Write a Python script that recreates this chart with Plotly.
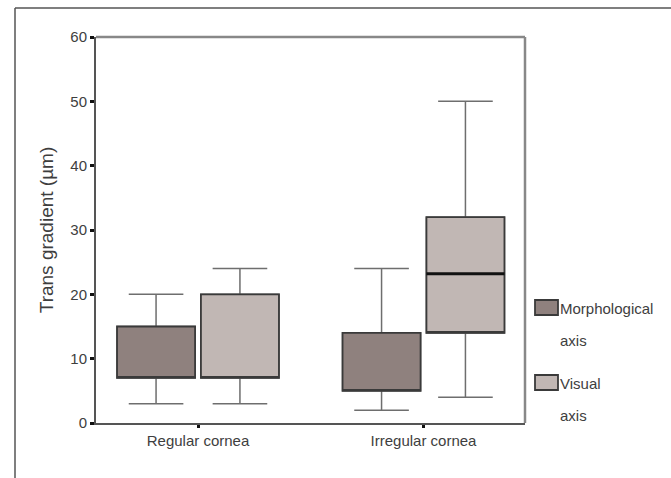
import plotly.graph_objects as go

# Trans gradient summary statistics (µm) per cornea group
categories = ["Regular cornea", "Irregular cornea"]
series_names = ["Morphological axis", "Visual axis"]

morph_lower = [3, 2]
morph_q1 = [7, 5]
morph_median = [7, 5]
morph_q3 = [15, 14]
morph_upper = [20, 24]

visual_lower = [3, 4]
visual_q1 = [7, 14]
visual_median = [7, 23.2]
visual_q3 = [20, 32]
visual_upper = [24, 50]

y_ticks = [0, 10, 20, 30, 40, 50, 60]

FONT = "Liberation Sans, Arial, sans-serif"
TEXT_COLOR = "#3e3e3e"
fills = ["#8f817e", "#c1b7b4"]
offset = 0.186
box_w = 0.346

series = [
    (morph_lower, morph_q1, morph_median, morph_q3, morph_upper),
    (visual_lower, visual_q1, visual_median, visual_q3, visual_upper),
]

fig = go.Figure()

for s, (lo, q1, med, q3, up) in enumerate(series):
    xs = [i + (-offset if s == 0 else offset) for i in range(len(categories))]
    # whiskers (lighter grey) drawn underneath
    fig.add_trace(go.Box(
        x=xs, q1=q1, median=med, q3=q3, lowerfence=lo, upperfence=up,
        width=box_w, whiskerwidth=0.7, boxpoints=False,
        fillcolor="rgba(0,0,0,0)", line=dict(color="#6e6e6e", width=1.5),
        showlegend=False, hoverinfo="skip",
    ))
    # filled box body with darker outline
    fig.add_trace(go.Box(
        x=xs, q1=q1, median=q1, q3=q3, lowerfence=q1, upperfence=q3,
        width=box_w, whiskerwidth=0, boxpoints=False,
        fillcolor=fills[s], line=dict(color="#3a3a3a", width=1.8),
        name=series_names[s], showlegend=False,
    ))
    # heavy median line where it falls inside the box
    mx, my = [], []
    for x, a, m, b in zip(xs, q1, med, q3):
        if a < m < b:
            mx += [x - box_w / 2, x + box_w / 2, None]
            my += [m, m, None]
    if mx:
        fig.add_trace(go.Scatter(
            x=mx, y=my, mode="lines", line=dict(color="#111111", width=3),
            showlegend=False, hoverinfo="skip",
        ))

# plot-area geometry in pixels
L, R, T, B = 96, 525, 37, 423
W, H = 671, 478
pw, ph = R - L, B - T


def px(xp):
    return (xp - L) / pw


def py(yp):
    return (B - yp) / ph


shapes = [
    # outer figure frame (left and top edges)
    dict(type="line", xref="paper", yref="paper", x0=px(15), x1=px(15),
         y0=py(8), y1=py(H + 5), line=dict(color="#555555", width=1.5)),
    dict(type="line", xref="paper", yref="paper", x0=px(15), x1=px(W + 5),
         y0=py(8), y1=py(8), line=dict(color="#555555", width=1.5)),
    # top and right edges of the plotting frame
    dict(type="line", xref="paper", yref="paper", x0=0, x1=1, y0=1, y1=1,
         line=dict(color="#888888", width=2.5)),
    dict(type="line", xref="paper", yref="paper", x0=1, x1=1, y0=0, y1=1,
         line=dict(color="#888888", width=2.5)),
]

# legend swatches and labels
legend_rows = [(300, 315, ["Morphological", "axis"], [308, 340]),
               (375, 390, ["Visual", "axis"], [383, 415])]
annotations = []
for k, (top, bot, lines, ys) in enumerate(legend_rows):
    shapes.append(dict(type="rect", xref="paper", yref="paper",
                       x0=px(535), x1=px(558), y0=py(bot), y1=py(top),
                       fillcolor=fills[k], line=dict(color="#3a3a3a", width=1.8)))
    for txt, yy in zip(lines, ys):
        annotations.append(dict(text=txt, xref="paper", yref="paper",
                                x=px(558), y=py(yy), xanchor="left", yanchor="middle",
                                showarrow=False,
                                font=dict(family=FONT, size=15, color=TEXT_COLOR)))

fig.update_layout(
    width=W, height=H,
    margin=dict(l=L, r=W - R, t=T, b=H - B),
    paper_bgcolor="white", plot_bgcolor="white",
    showlegend=False,
    shapes=shapes, annotations=annotations,
    xaxis=dict(
        range=[(L - 198) / 225.5, (R - 198) / 225.5],
        tickvals=list(range(len(categories))), ticktext=categories,
        ticks="outside", ticklen=3, tickwidth=3, tickcolor="#111111",
        showline=True, linecolor="#555555", linewidth=2,
        mirror=False, showgrid=False, zeroline=False,
        tickfont=dict(family=FONT, size=15, color=TEXT_COLOR),
    ),
    yaxis=dict(
        range=[0, 60], tickvals=y_ticks,
        ticks="outside", ticklen=4, tickwidth=3, tickcolor="#111111",
        showline=True, linecolor="#555555", linewidth=2,
        showgrid=False, zeroline=False,
        tickfont=dict(family=FONT, size=15, color=TEXT_COLOR),
        title=dict(text="Trans gradient (µm)", standoff=12,
                   font=dict(family=FONT, size=19, color=TEXT_COLOR)),
    ),
)

fig.write_html("out.html")
